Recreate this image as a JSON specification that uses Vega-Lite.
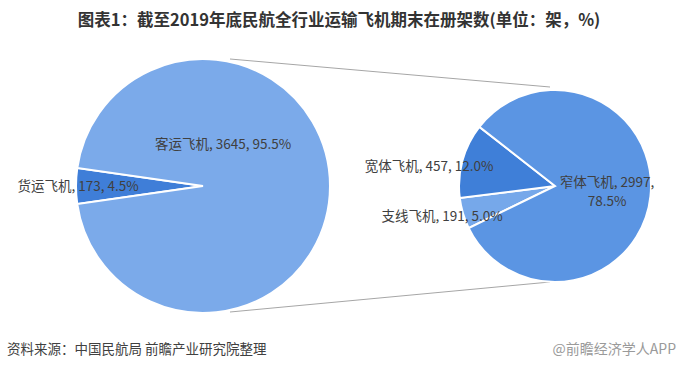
{
  "$schema": "https://vega.github.io/schema/vega-lite/v6.json",
  "width": 678,
  "height": 370,
  "padding": 0,
  "autosize": {"type": "none"},
  "background": "white",
  "config": {"view": {"stroke": null}, "font": "Noto Sans CJK SC"},
  "datasets": {
    "main": [
      {"name": "货运飞机", "count": 173, "pct": 4.5},
      {"name": "客运飞机", "count": 3645, "pct": 95.5}
    ],
    "passenger": [
      {"name": "支线飞机", "count": 191, "pct": 5.0},
      {"name": "宽体飞机", "count": 457, "pct": 12.0},
      {"name": "窄体飞机", "count": 2997, "pct": 78.5}
    ],
    "notes": [
      {"kind": "title", "text": "图表1：截至2019年底民航全行业运输飞机期末在册架数(单位：架，%)"},
      {"kind": "source", "text": "资料来源：中国民航局 前瞻产业研究院整理"},
      {"kind": "brand", "text": "@前瞻经济学人APP"}
    ]
  },
  "layer": [
    {
      "data": {"name": "main"},
      "transform": [{"filter": "datum.name === '客运飞机'"}],
      "mark": {"type": "rule", "color": "#a6a6a6", "strokeWidth": 1},
      "encoding": {
        "x": {"datum": 230, "type": "quantitative", "scale": {"domain": [0, 678], "nice": false, "zero": false}, "axis": null},
        "y": {"datum": 59, "type": "quantitative", "scale": {"domain": [0, 370], "nice": false, "zero": false, "reverse": true}, "axis": null},
        "x2": {"datum": 550},
        "y2": {"datum": 87}
      }
    },
    {
      "data": {"name": "main"},
      "transform": [{"filter": "datum.name === '客运飞机'"}],
      "mark": {"type": "rule", "color": "#a6a6a6", "strokeWidth": 1},
      "encoding": {
        "x": {"datum": 230, "type": "quantitative"},
        "y": {"datum": 312, "type": "quantitative"},
        "x2": {"datum": 550},
        "y2": {"datum": 282}
      }
    },
    {
      "data": {"name": "main"},
      "mark": {"type": "arc", "radius": 127, "stroke": "white", "strokeWidth": 2},
      "encoding": {
        "x": {"datum": 203, "type": "quantitative"},
        "y": {"datum": 186, "type": "quantitative"},
        "theta": {"field": "count", "type": "quantitative", "stack": true, "scale": {"range": [4.5700, 10.8532]}},
        "order": {"field": "count", "sort": "ascending"},
        "color": {"field": "name", "type": "nominal", "scale": {"domain": ["货运飞机", "客运飞机"], "range": ["#3F7ED8", "#7BAAEA"]}, "legend": null}
      }
    },
    {
      "data": {"name": "passenger"},
      "mark": {"type": "arc", "radius": 96, "stroke": "white", "strokeWidth": 2},
      "encoding": {
        "x": {"datum": 555, "type": "quantitative"},
        "y": {"datum": 186, "type": "quantitative"},
        "theta": {"field": "count", "type": "quantitative", "stack": true, "scale": {"range": [4.2586, 10.5418]}},
        "order": {"field": "count", "sort": "ascending"},
        "color": {"field": "name", "type": "nominal", "scale": {"domain": ["支线飞机", "宽体飞机", "窄体飞机"], "range": ["#76A8EA", "#3F7FD8", "#5B95E3"]}, "legend": null}
      }
    },
    {
      "data": {"name": "main"},
      "transform": [
        {"filter": "datum.name === '客运飞机'"},
        {"calculate": "datum.name + ', ' + datum.count + ', ' + format(datum.pct, '.1f') + '%'", "as": "label"}
      ],
      "mark": {"type": "text", "fontSize": 13.5, "fill": "#404040", "align": "center", "baseline": "middle"},
      "encoding": {
        "x": {"datum": 223, "type": "quantitative"},
        "y": {"datum": 145, "type": "quantitative"},
        "text": {"field": "label"}
      }
    },
    {
      "data": {"name": "main"},
      "transform": [
        {"filter": "datum.name === '货运飞机'"},
        {"calculate": "datum.name + ', ' + datum.count + ', ' + format(datum.pct, '.1f') + '%'", "as": "label"}
      ],
      "mark": {"type": "text", "fontSize": 13.5, "fill": "#404040", "align": "center", "baseline": "middle"},
      "encoding": {
        "x": {"datum": 78, "type": "quantitative"},
        "y": {"datum": 187, "type": "quantitative"},
        "text": {"field": "label"}
      }
    },
    {
      "data": {"name": "passenger"},
      "transform": [
        {"filter": "datum.name === '宽体飞机'"},
        {"calculate": "datum.name + ', ' + datum.count + ', ' + format(datum.pct, '.1f') + '%'", "as": "label"}
      ],
      "mark": {"type": "text", "fontSize": 13.5, "fill": "#404040", "align": "center", "baseline": "middle"},
      "encoding": {
        "x": {"datum": 429, "type": "quantitative"},
        "y": {"datum": 167, "type": "quantitative"},
        "text": {"field": "label"}
      }
    },
    {
      "data": {"name": "passenger"},
      "transform": [
        {"filter": "datum.name === '支线飞机'"},
        {"calculate": "datum.name + ', ' + datum.count + ', ' + format(datum.pct, '.1f') + '%'", "as": "label"}
      ],
      "mark": {"type": "text", "fontSize": 13.5, "fill": "#404040", "align": "center", "baseline": "middle"},
      "encoding": {
        "x": {"datum": 442, "type": "quantitative"},
        "y": {"datum": 217, "type": "quantitative"},
        "text": {"field": "label"}
      }
    },
    {
      "data": {"name": "passenger"},
      "transform": [
        {"filter": "datum.name === '窄体飞机'"},
        {"calculate": "datum.name + ', ' + datum.count + ',\\n' + format(datum.pct, '.1f') + '%'", "as": "label"}
      ],
      "mark": {"type": "text", "fontSize": 13.5, "fill": "#404040", "align": "center", "baseline": "middle", "lineBreak": "\n", "lineHeight": 19},
      "encoding": {
        "x": {"datum": 607, "type": "quantitative"},
        "y": {"datum": 183, "type": "quantitative"},
        "text": {"field": "label"}
      }
    },
    {
      "data": {"name": "notes"},
      "transform": [{"filter": "datum.kind === 'title'"}],
      "mark": {"type": "text", "fontSize": 16.5, "fontWeight": "bold", "fill": "#333333", "align": "center", "baseline": "middle"},
      "encoding": {
        "x": {"datum": 339, "type": "quantitative"},
        "y": {"datum": 21, "type": "quantitative"},
        "text": {"field": "text"}
      }
    },
    {
      "data": {"name": "notes"},
      "transform": [{"filter": "datum.kind === 'source'"}],
      "mark": {"type": "text", "fontSize": 13.5, "fill": "#404040", "align": "left", "baseline": "middle"},
      "encoding": {
        "x": {"datum": 7, "type": "quantitative"},
        "y": {"datum": 350, "type": "quantitative"},
        "text": {"field": "text"}
      }
    },
    {
      "data": {"name": "notes"},
      "transform": [{"filter": "datum.kind === 'brand'"}],
      "mark": {"type": "text", "fontSize": 14, "fill": "#9a9a9a", "align": "right", "baseline": "middle"},
      "encoding": {
        "x": {"datum": 676, "type": "quantitative"},
        "y": {"datum": 350, "type": "quantitative"},
        "text": {"field": "text"}
      }
    }
  ],
  "resolve": {"scale": {"theta": "independent", "color": "independent"}}
}
